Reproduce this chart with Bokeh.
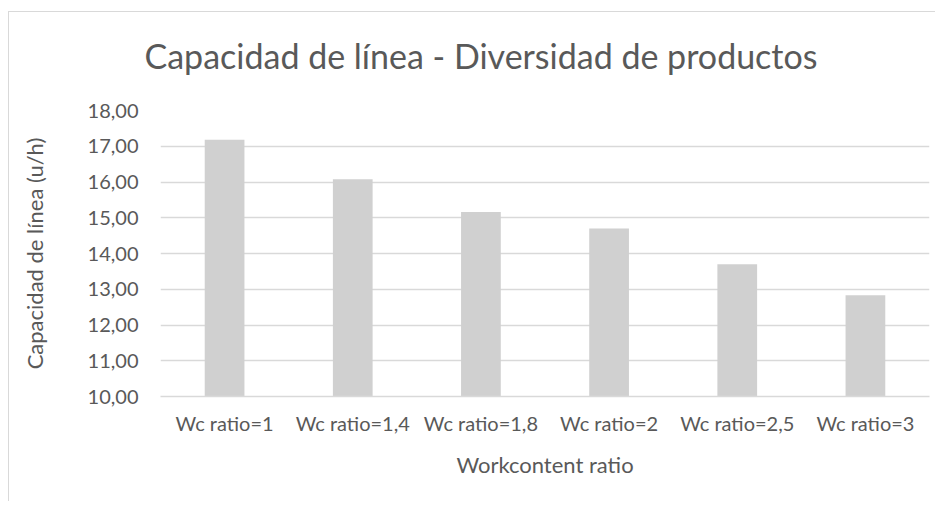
from bokeh.plotting import figure
from bokeh.models import Range1d, FactorRange, CustomJSTickFormatter, FixedTicker, ColumnDataSource, Title
from bokeh.embed import file_html
from bokeh.resources import INLINE

title_text = "Capacidad de línea - Diversidad de productos"
categories = ["Wc ratio=1", "Wc ratio=1,4", "Wc ratio=1,8", "Wc ratio=2", "Wc ratio=2,5", "Wc ratio=3"]
capacidad = [17.18, 16.08, 15.16, 14.70, 13.70, 12.83]
y_ticks = [10, 11, 12, 13, 14, 15, 16, 17, 18]

FONT = "Lato"
TXT = "#595959"
GRID = "#d9d9d9"

src = ColumnDataSource(dict(cat=categories, val=capacidad))

p = figure(width=927, height=490, output_backend="svg", toolbar_location=None,
           x_range=FactorRange(*categories, range_padding=0), y_range=Range1d(10, 18),
           min_border_left=151, min_border_right=7, min_border_top=98, min_border_bottom=106,
           styles={"margin-left": "8px", "margin-top": "11px",
                   "border-left": "1px solid #d9d9d9", "border-top": "1px solid #d9d9d9"})

p.vbar(x="cat", top="val", bottom=10, width=0.31, source=src, fill_color="#d0d0d0", line_color=None)

# small spacer between the plot frame and the title, then the title itself
p.add_layout(Title(text=" ", text_font_size="10px", standoff=2), "above")
p.add_layout(Title(text=title_text, text_font=FONT, text_font_size="34px",
                   text_font_style="normal", text_color=TXT, align="left",
                   offset=-16, standoff=39), "above")

p.outline_line_color = None
p.background_fill_color = "white"
p.border_fill_color = "white"

p.xgrid.grid_line_color = None
p.ygrid.grid_line_color = GRID
p.ygrid.grid_line_width = 1.3

p.yaxis.ticker = FixedTicker(ticks=y_ticks)
p.yaxis.formatter = CustomJSTickFormatter(code="return tick.toFixed(2).replace('.', ',');")
p.yaxis.axis_line_color = None
p.yaxis.major_tick_line_color = None
p.yaxis.major_tick_out = 0
p.yaxis.major_tick_in = 0
p.yaxis.minor_tick_line_color = None
p.yaxis.major_label_text_font = FONT
p.yaxis.major_label_text_font_size = "20px"
p.yaxis.major_label_text_color = TXT
p.yaxis.major_label_standoff = 22
p.yaxis.axis_label = "Capacidad de línea (u/h)"
p.yaxis.axis_label_text_font = FONT
p.yaxis.axis_label_text_font_size = "22px"
p.yaxis.axis_label_text_font_style = "normal"
p.yaxis.axis_label_text_color = TXT
p.yaxis.axis_label_standoff = 37

p.xaxis.axis_line_color = GRID
p.xaxis.axis_line_width = 1.3
p.xaxis.major_tick_line_color = None
p.xaxis.major_tick_out = 0
p.xaxis.major_tick_in = 0
p.xaxis.minor_tick_line_color = None
p.xaxis.major_label_text_font = FONT
p.xaxis.major_label_text_font_size = "20px"
p.xaxis.major_label_text_color = TXT
p.xaxis.major_label_standoff = 14
p.xaxis.axis_label = "Workcontent ratio"
p.xaxis.axis_label_text_font = FONT
p.xaxis.axis_label_text_font_size = "22px"
p.xaxis.axis_label_text_font_style = "normal"
p.xaxis.axis_label_text_color = TXT
p.xaxis.axis_label_standoff = 13

open("out.html", "w").write(file_html(p, INLINE))
